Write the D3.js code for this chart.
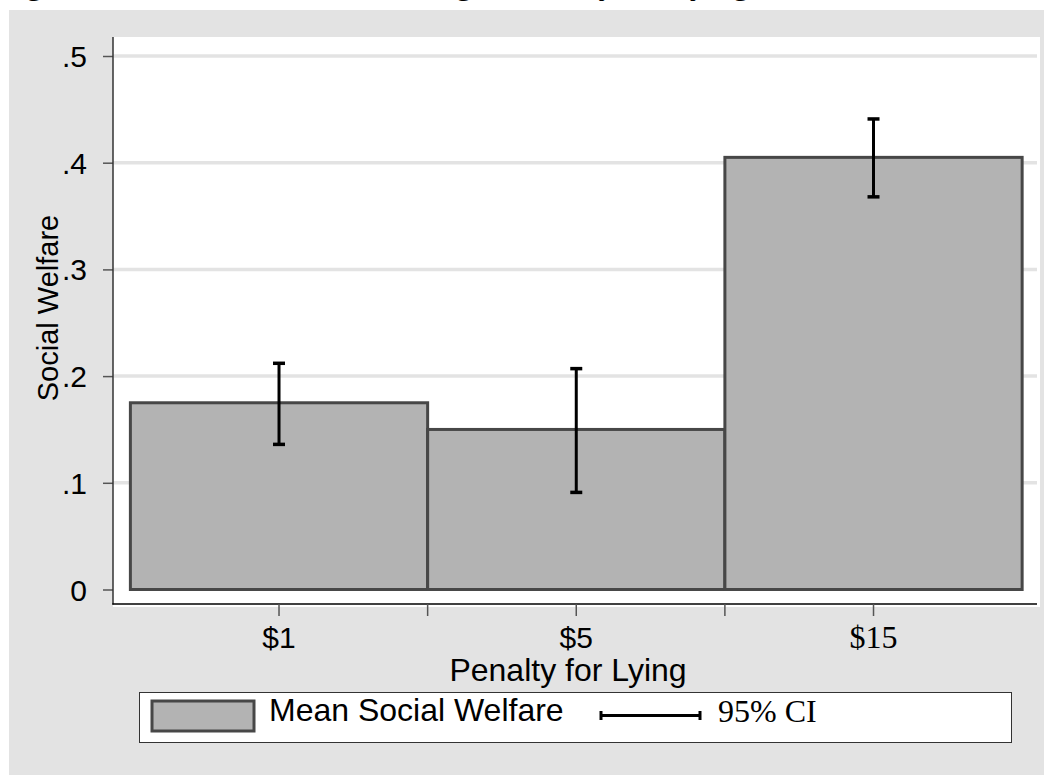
<!DOCTYPE html>
<html>
<head>
<meta charset="utf-8">
<script src="https://cdn.jsdelivr.net/npm/d3@7"></script>
<style>
  body { margin: 0; background: white; }
  .sans { font-family: "Liberation Sans", Arial, sans-serif; }
  .serif { font-family: "Liberation Serif", "Times New Roman", serif; }
</style>
</head>
<body>
<div id="chart"></div>
<script>

var categories = ["$1", "$5", "$15"];
var categoryPos = [1, 2, 3];
var meanWelfare = [0.175, 0.150, 0.405];
var ciLow = [0.136, 0.091, 0.368];
var ciHigh = [0.212, 0.207, 0.441];
var yTicks = [0, 0.1, 0.2, 0.3, 0.4, 0.5];
var yTickLabels = ["0", ".1", ".2", ".3", ".4", ".5"];
var xTicksMinor = [1.5, 2.5];
var caption = "Figure 2: Social Welfare According to Penalty for Lying";

var width = 1054, height = 775;

var svg = d3.select("#chart")
  .append("svg")
  .attr("width", width)
  .attr("height", height);

// caption, mostly cut off at top of the page
var cap = svg.append("text")
  .attr("class", "serif")
  .attr("x", 0)
  .attr("y", -6)
  .style("font-size", "33px")
  .text(caption);

// fit so the first and last "g" land where the reference shows them
var n = cap.node();
var g1 = caption.indexOf("g"), g2 = caption.lastIndexOf("g");
var e1 = n.getExtentOfChar(g1), e2 = n.getExtentOfChar(g2);
var c1 = e1.x + e1.width / 2, c2 = e2.x + e2.width / 2;
var k = (741 - 34) / (c2 - c1);
cap.style("font-size", (33 * k) + "px");
e1 = n.getExtentOfChar(g1);
cap.attr("x", 34 - (e1.x + e1.width / 2));

// grey graph region
svg.append("rect")
  .attr("x", 9)
  .attr("y", 10)
  .attr("width", 1035)
  .attr("height", 765)
  .attr("fill", "#e3e3e3");

// white plot region
svg.append("rect")
  .attr("x", 113)
  .attr("y", 37)
  .attr("width", 927)
  .attr("height", 570)
  .attr("fill", "white");

var xscale = d3.scaleLinear()
  .domain([0.4415, 3.55])
  .range([113, 1037]);

var yscale = d3.scaleLinear()
  .domain([0, 0.5])
  .range([589.5, 56]);

// gridlines
svg.append("g")
  .selectAll("line")
  .data(yTicks.slice(1))
  .enter().append("line")
  .attr("x1", 113)
  .attr("x2", 1037)
  .attr("y1", d => yscale(d))
  .attr("y2", d => yscale(d))
  .attr("stroke", "#e3e3e3")
  .attr("stroke-width", 3.5);

// bars
svg.append("g")
  .selectAll("rect")
  .data(meanWelfare)
  .enter().append("rect")
  .attr("x", (d, i) => xscale(categoryPos[i] - 0.5))
  .attr("y", d => yscale(d))
  .attr("width", (d, i) => xscale(categoryPos[i] + 0.5) - xscale(categoryPos[i] - 0.5))
  .attr("height", d => yscale(0) - yscale(d))
  .attr("fill", "#b3b3b3")
  .attr("stroke", "#474747")
  .attr("stroke-width", 3);

// 95% CI error bars
var ci = svg.append("g");
categoryPos.forEach(function (p, i) {
  var cx = xscale(p);
  ci.append("line")
    .attr("x1", cx).attr("x2", cx)
    .attr("y1", yscale(ciLow[i])).attr("y2", yscale(ciHigh[i]))
    .attr("stroke", "black").attr("stroke-width", 3);
  [ciLow[i], ciHigh[i]].forEach(function (v) {
    ci.append("line")
      .attr("x1", cx - 6).attr("x2", cx + 6)
      .attr("y1", yscale(v)).attr("y2", yscale(v))
      .attr("stroke", "black").attr("stroke-width", 3.5);
  });
});

// y axis
var yAxis = svg.append("g")
  .attr("transform", "translate(113,0)")
  .call(d3.axisLeft(yscale)
    .tickValues(yTicks)
    .tickFormat((d, i) => yTickLabels[i])
    .tickSize(10)
    .tickPadding(16));
yAxis.select(".domain").remove();
yAxis.selectAll(".tick line").attr("stroke", "#555").attr("stroke-width", 1.5);
yAxis.selectAll("text")
  .attr("class", "sans")
  .attr("fill", "black")
  .style("font-size", "30px")
  .attr("dy", "0.35em");

svg.append("line")
  .attr("x1", 113).attr("x2", 113)
  .attr("y1", 37).attr("y2", 604.5)
  .attr("stroke", "#333").attr("stroke-width", 1.5);

// x axis
svg.append("line")
  .attr("x1", 112.3).attr("x2", 1037)
  .attr("y1", 604).attr("y2", 604)
  .attr("stroke", "black").attr("stroke-width", 1.5);

svg.append("g")
  .selectAll("line")
  .data(categoryPos.concat(xTicksMinor))
  .enter().append("line")
  .attr("x1", d => xscale(d)).attr("x2", d => xscale(d))
  .attr("y1", 604).attr("y2", 616)
  .attr("stroke", "#555").attr("stroke-width", 1.5);

svg.append("g")
  .selectAll("text")
  .data(categories)
  .enter().append("text")
  .attr("class", (d, i) => i == 2 ? "serif" : "sans")
  .attr("x", (d, i) => xscale(categoryPos[i]))
  .attr("y", 648)
  .attr("text-anchor", "middle")
  .style("font-size", (d, i) => i == 2 ? "32px" : "30px")
  .text(d => d);

// axis titles
svg.append("text")
  .attr("class", "sans")
  .attr("x", 568)
  .attr("y", 681)
  .attr("text-anchor", "middle")
  .style("font-size", "32px")
  .text("Penalty for Lying");

svg.append("text")
  .attr("class", "sans")
  .attr("transform", "translate(58,308)rotate(-90)")
  .attr("text-anchor", "middle")
  .style("font-size", "29px")
  .text("Social Welfare");

// legend
svg.append("rect")
  .attr("x", 139.5).attr("y", 692.5)
  .attr("width", 872).attr("height", 50)
  .attr("fill", "white")
  .attr("stroke", "#333").attr("stroke-width", 1);

svg.append("rect")
  .attr("x", 152).attr("y", 701)
  .attr("width", 102).attr("height", 30)
  .attr("fill", "#b3b3b3")
  .attr("stroke", "#474747").attr("stroke-width", 3);

svg.append("text")
  .attr("class", "sans")
  .attr("x", 269).attr("y", 721)
  .style("font-size", "32px")
  .text("Mean Social Welfare");

svg.append("line")
  .attr("x1", 601).attr("x2", 700)
  .attr("y1", 715.5).attr("y2", 715.5)
  .attr("stroke", "black").attr("stroke-width", 3);

[601, 700].forEach(function (x) {
  svg.append("line")
    .attr("x1", x).attr("x2", x)
    .attr("y1", 711).attr("y2", 720)
    .attr("stroke", "black").attr("stroke-width", 3);
});

svg.append("text")
  .attr("class", "serif")
  .attr("x", 718).attr("y", 722)
  .style("font-size", "32px")
  .text("95% CI");

</script>
</body>
</html>
